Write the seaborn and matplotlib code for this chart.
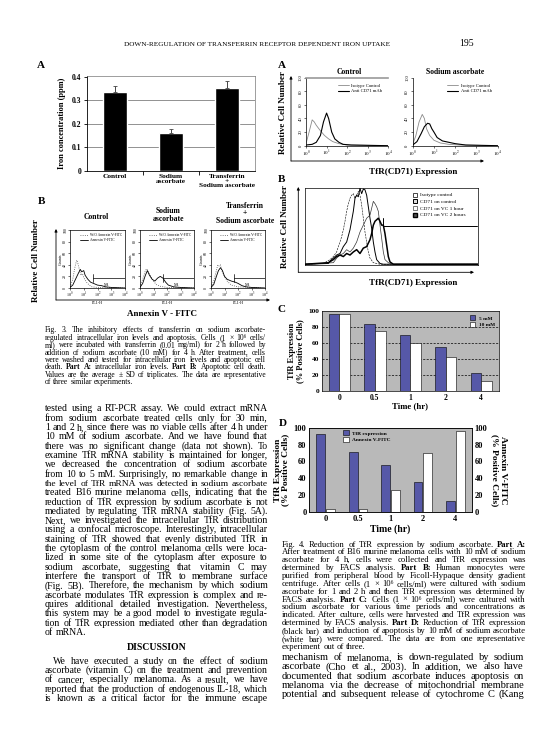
import numpy as np
import pandas as pd
import seaborn as sns
import matplotlib
matplotlib.use('Agg')
import matplotlib.pyplot as plt
from matplotlib.patches import FancyArrowPatch, Patch
from matplotlib.lines import Line2D
from matplotlib.font_manager import FontProperties

# ---------------- data ----------------
iron_groups = ['Control', 'Sodium\nascorbate', 'Transferrin\n+\nSodium ascorbate']
iron_mean = [0.335, 0.163, 0.352]
iron_sd = [0.028, 0.015, 0.030]

annex_titles = ['Control', 'Sodium\nascorbate', 'Transferrin\n+\nSodium ascorbate']
# log10(FL1-H) positions and counts
p1_wo_x = [0, 0.2, 0.35, 0.45, 0.5, 0.6, 0.7, 0.8, 0.9, 1.0, 1.2, 1.4, 1.6, 2.0, 4.0]
p1_wo_y = [2, 15, 35, 45, 48, 40, 30, 22, 25, 18, 10, 5, 2, 1, 0]
p1_an_x = [0, 0.2, 0.4, 0.6, 0.75, 0.85, 1.0, 1.1, 1.3, 1.5, 1.8, 2.0, 2.3, 2.6, 3.0, 4.0]
p1_an_y = [1, 5, 15, 25, 32, 28, 30, 22, 15, 10, 7, 5, 4, 2, 1, 0]
p2_wo_x = [0, 0.2, 0.4, 0.5, 0.6, 0.8, 1.0, 1.2, 1.5, 2.0, 4.0]
p2_wo_y = [2, 15, 30, 33, 28, 20, 12, 6, 3, 1, 0]
p2_an_x = [0, 0.2, 0.4, 0.55, 0.7, 0.9, 1.1, 1.3, 1.5, 1.7, 1.9, 2.1, 2.5, 3.0, 4.0]
p2_an_y = [1, 8, 22, 30, 22, 15, 12, 17, 20, 17, 10, 5, 2, 1, 0]
p3_wo_x = [0, 0.2, 0.4, 0.5, 0.6, 0.7, 0.8, 1.0, 1.2, 1.5, 2.0, 4.0]
p3_wo_y = [2, 12, 30, 40, 38, 40, 30, 20, 12, 5, 2, 0]
p3_an_x = [0, 0.2, 0.4, 0.55, 0.7, 0.85, 1.0, 1.2, 1.5, 1.8, 2.0, 2.3, 2.6, 3.0, 4.0]
p3_an_y = [1, 6, 20, 30, 35, 30, 20, 15, 12, 10, 8, 4, 2, 1, 0]

# Fig 4A histograms (log10 TfR fluorescence, counts)
ctl_iso_x = [0, 0.15, 0.3, 0.4, 0.5, 0.7, 0.9, 1.1, 1.3, 1.6, 2.0, 4.0]
ctl_iso_y = [3, 20, 38, 35, 30, 22, 15, 10, 6, 3, 1, 0]
ctl_cd_x = [0, 0.3, 0.5, 0.7, 0.85, 1.0, 1.1, 1.25, 1.4, 1.6, 1.8, 2.2, 4.0]
ctl_cd_y = [1, 2, 5, 15, 35, 48, 40, 20, 10, 5, 2, 1, 0]
sa_iso_x = [0, 0.15, 0.3, 0.45, 0.55, 0.65, 0.8, 1.0, 1.3, 1.7, 2.2, 4.0]
sa_iso_y = [2, 15, 35, 46, 40, 25, 15, 8, 4, 2, 1, 0]
sa_cd_x = [0, 0.2, 0.4, 0.55, 0.7, 0.8, 0.9, 1.0, 1.15, 1.4, 1.7, 2.0, 2.5, 4.0]
sa_cd_y = [1, 6, 18, 28, 33, 32, 25, 20, 12, 7, 5, 3, 1, 0]

# Fig 4B overlay histograms (channel, relative cell number)
b_iso_x = [0, 55, 75, 85, 95, 100, 105, 110, 115, 120, 125, 130, 135, 140, 145, 150, 155, 160, 165, 170, 175, 180, 185, 190, 195, 205, 215, 225, 520]
b_iso_y = [1, 2, 7, 11, 17, 24, 30, 37, 46, 57, 70, 80, 87, 91, 93, 87, 91, 96, 91, 78, 61, 43, 30, 17, 9, 3, 2, 1, 1]
b_ctl_x = [0, 70, 75, 85, 95, 105, 115, 125, 135, 145, 150, 155, 160, 165, 170, 175, 180, 185, 190, 195, 200, 205, 210, 215, 225, 235, 520]
b_ctl_y = [1, 2, 5, 9, 13, 15, 24, 30, 46, 70, 87, 91, 89, 100, 93, 99, 98, 91, 76, 61, 48, 30, 17, 7, 2, 1, 1]
b_vc1_x = [0, 85, 95, 105, 115, 125, 135, 145, 155, 165, 175, 185, 195, 200, 205, 210, 215, 220, 225, 230, 235, 240, 250, 260, 520]
b_vc1_y = [1, 3, 9, 13, 15, 20, 17, 22, 30, 43, 52, 61, 65, 74, 83, 80, 76, 70, 52, 35, 17, 7, 3, 1, 1]
b_vc2_x = [0, 70, 85, 95, 105, 115, 125, 135, 145, 155, 165, 175, 185, 195, 200, 205, 210, 215, 220, 225, 230, 235, 240, 245, 250, 255, 265, 520]
b_vc2_y = [1, 3, 7, 11, 13, 11, 15, 13, 17, 20, 15, 22, 24, 33, 41, 52, 57, 59, 61, 57, 52, 52, 41, 26, 11, 4, 1, 1]
b_labels = ['Isotype control', 'CD71 on control', 'CD71 on VC 1 hour', 'CD71 on VC 2 hours']

# Fig 4C
times = ['0', '0.5', '1', '2', '4']
c_5mm = [96, 84, 70, 55, 23]
c_10mm = [96, 75, 60, 42, 13]
# Fig 4D
d_tfr = [92, 71, 56, 36, 13]
d_annexin = [4, 4, 26, 70, 96]

# ---------------- text ----------------
header = 'DOWN-REGULATION OF TRANSFERRIN RECEPTOR DEPENDENT IRON UPTAKE'
page_no = '195'
cap3 = [
    'Fig. 3.  The inhibitory effects of transferrin on sodium ascorbate-',
    'regulated intracellular iron levels and apoptosis. Cells (1 × 10⁶ cells/',
    'ml) were incubated with transferrin (0.01 mg/ml) for 2 h followed by',
    'addition of sodium ascorbate (10 mM) for 4 h. After treatment, cells',
    'were washed and tested for intracellular iron levels and apoptotic cell',
    'death. §Part §A: intracellular iron levels. §Part §B: Apoptotic cell death.',
    'Values are the average ± SD of triplicates. The data are representative',
    'of three similar experiments.',
]
body_left = [
    'tested using a RT-PCR assay. We could extract mRNA',
    'from sodium ascorbate treated cells only for 30 min,',
    '1 and 2 h, since there was no viable cells after 4 h under',
    '10 mM of sodium ascorbate. And we have found that',
    'there was no significant change (data not shown). To',
    'examine TfR mRNA stability is maintained for longer,',
    'we decreased the concentration of sodium ascorbate',
    'from 10 to 5 mM. Surprisingly, no remarkable change in',
    'the level of TfR mRNA was detected in sodium ascorbate',
    'treated B16 murine melanoma cells, indicating that the',
    'reduction of TfR expression by sodium ascorbate is not',
    'mediated by regulating TfR mRNA stability (Fig. 5A).',
    'Next, we investigated the intracellular TfR distribution',
    'using a confocal microscope. Interestingly, intracellular',
    'staining of TfR showed that evenly distributed TfR in',
    'the cytoplasm of the control melanoma cells were loca-',
    'lized in some site of the cytoplasm after exposure to',
    'sodium ascorbate, suggesting that vitamin C may',
    'interfere the transport of TfR to membrane surface',
    '(Fig. 5B). Therefore, the mechanism by which sodium',
    'ascorbate modulates TfR expression is complex and re-',
    'quires additional detailed investigation. Nevertheless,',
    'this system may be a good model to investigate regula-',
    'tion of TfR expression mediated other than degradation',
    'of mRNA.',
]
disc_title = 'DISCUSSION'
disc = [
    'We have executed a study on the effect of sodium',
    'ascorbate (vitamin C) on the treatment and prevention',
    'of cancer, especially melanoma. As a result, we have',
    'reported that the production of endogenous IL-18, which',
    'is known as a critical factor for the immune escape',
]
cap4 = [
    'Fig. 4.  Reduction of TfR expression by sodium ascorbate. §Part §A:',
    'After treatment of B16 murine melanoma cells with 10 mM of sodium',
    'ascorbate for 4 h, cells were collected and TfR expression was',
    'determined by FACS analysis. §Part §B: Human monocytes were',
    'purified from peripheral blood by Ficoll-Hypaque density gradient',
    'centrifuge. After cells (1 × 10⁶ cells/ml) were cultured with sodium',
    'ascorbate for 1 and 2 h and then TfR expression was determined by',
    'FACS analysis. §Part §C: Cells (1 × 10⁶ cells/ml) were cultured with',
    'sodium ascorbate for various time periods and concentrations as',
    'indicated. After culture, cells were harvested and TfR expression was',
    'determined by FACS analysis. §Part §D: Reduction of TfR expression',
    '(black bar) and induction of apoptosis by 10 mM of sodium ascorbate',
    '(white bar) were compared. The data are from one representative',
    'experiment out of three.',
]
body_right = [
    'mechanism of melanoma, is down-regulated by sodium',
    'ascorbate (Cho et al., 2003). In addition, we also have',
    'documented that sodium ascorbate induces apoptosis on',
    'melanoma via the decrease of mitochondrial membrane',
    'potential and subsequent release of cytochrome C (Kang',
]

# ---------------- setup ----------------
W, H = 553, 737
sns.set_theme(style='white', rc={
    'axes.edgecolor': 'black', 'axes.linewidth': 0.6,
    'xtick.color': 'black', 'ytick.color': 'black',
    'axes.labelcolor': 'black', 'text.color': 'black',
})
CHART_FONT = ['Liberation Serif', 'DejaVu Serif']
BODY_FONT = ['Liberation Serif', 'DejaVu Serif']
plt.rcParams['font.family'] = CHART_FONT
plt.rcParams['mathtext.fontset'] = 'stix'

fig = plt.figure(figsize=(W / 100, H / 100), dpi=100)
fig.patch.set_facecolor('white')
renderer = fig.canvas.get_renderer()


def ax_px(x0, y0, x1, y1):
    return fig.add_axes([x0 / W, 1 - y1 / H, (x1 - x0) / W, (y1 - y0) / H])


def t(x, y, s, size=6, weight='bold', ha='center', va='center', rot=0, family=None, **kw):
    fig.text(x / W, 1 - y / H, s, fontsize=size, fontweight=weight, ha=ha, va=va,
             rotation=rot, family=family or CHART_FONT, **kw)


def arrow(x0, y0, x1, y1, head=True, lw=0.6, color='black'):
    a = FancyArrowPatch((x0 / W, 1 - y0 / H), (x1 / W, 1 - y1 / H), transform=fig.transFigure,
                        arrowstyle='-|>' if head else '-', mutation_scale=4, lw=lw,
                        color=color, shrinkA=0, shrinkB=0)
    fig.add_artist(a)


def measure(s, size, bold):
    tx = fig.text(0, 0, s, fontsize=size, family=BODY_FONT, fontweight='bold' if bold else 'normal')
    w = tx.get_window_extent(renderer).width
    tx.remove()
    return w


def parse(line):
    return [(w.lstrip('§'), w.startswith('§')) for w in line.split()]


def natural(toks, size):
    sp = measure('n n', size, False) - measure('nn', size, False)
    return sum(measure(w, size, b) for w, b in toks) + sp * (len(toks) - 1)


def fit_size(lines, width, base=6.0, indent=0, fill=0.97):
    ratios = []
    for i, ln in enumerate(lines[:-1] if len(lines) > 2 else lines):
        avail = width - (indent if i == 0 else 0)
        ratios.append(natural(parse(ln), base) / avail)
    return base / float(np.median(ratios)) * fill


def block(lines, x0, x1, y0, dy, size, justify_last=False, indent=0):
    for i, ln in enumerate(lines):
        toks = parse(ln)
        xs = x0 + (indent if i == 0 else 0)
        avail = x1 - xs
        sz = size
        nat = natural(toks, sz)
        if nat > avail * 0.995:
            sz = sz * avail * 0.99 / nat
        widths = [measure(w, sz, b) for w, b in toks]
        sp = measure('n n', sz, False) - measure('nn', sz, False)
        last = (i == len(lines) - 1) and not justify_last
        if len(toks) > 1 and not last:
            gap = (avail - sum(widths)) / (len(toks) - 1)
        else:
            gap = sp
        y = y0 + i * dy + 0.32 * size * 100 / 72
        x = xs
        for (w, b), wd in zip(toks, widths):
            fig.text(x / W, 1 - y / H, w, fontsize=sz, family=BODY_FONT,
                     fontweight='bold' if b else 'normal', ha='left', va='baseline')
            x += wd + gap


# ---------------- header ----------------
t(257, 44, header, size=5.2, weight='normal', family=BODY_FONT)
t(467, 44, page_no, size=7, weight='normal', family=BODY_FONT)

# ---------------- Fig 3A ----------------
t(41, 65, 'A', size=8)
ax = ax_px(87, 75.7, 255, 171)
sns.barplot(x=iron_groups, y=iron_mean, color='black', width=0.42, errorbar=None,
            saturation=1, ax=ax)
ax.errorbar(range(3), iron_mean, yerr=[[0, 0, 0], iron_sd], fmt='none', ecolor='#444444',
            elinewidth=0.7, capsize=1.5, capthick=0.6, zorder=5)
for v in [0.1, 0.2, 0.3]:
    ax.axhline(v, color='black', lw=0.6, ls=(0, (1.2, 1.2)), zorder=0)
ax.set_ylim(0, 0.405)
ax.set_xlim(-0.5, 2.5)
ax.set_yticks([0, 0.1, 0.2, 0.3, 0.4])
ax.set_yticklabels(['0', '0.1', '0.2', '0.3', '0.4'], fontsize=5.5, fontweight='bold')
ax.set_xticks([0, 1, 2])
ax.set_xticklabels(iron_groups, fontsize=5.3, fontweight='bold', linespacing=0.95)
ax.set_xticks([0.5, 1.5], minor=True)
ax.tick_params(axis='x', which='major', length=0, pad=2)
ax.tick_params(axis='x', which='minor', length=3, width=0.6, direction='out', bottom=True)
ax.tick_params(axis='y', length=2, width=0.6, pad=2, left=True)
for s in ['top', 'right']:
    ax.spines[s].set_color('#777777')
    ax.spines[s].set_linewidth(0.5)
ax.set_xlabel('')
ax.set_ylabel('Iron concentration (ppm)', fontsize=6, fontweight='bold', labelpad=4)

# ---------------- Fig 3B ----------------
t(41, 202, 'B', size=8)
t(96.7, 216.7, annex_titles[0], size=5.5, linespacing=0.95)
t(168.3, 215, annex_titles[1], size=5.5, linespacing=0.95)
t(245, 213.5, annex_titles[2], size=5.5, linespacing=0.95)
panels = [
    ((70, 230, 125, 288), p1_wo_x, p1_wo_y, p1_an_x, p1_an_y),
    ((140, 230, 194, 288), p2_wo_x, p2_wo_y, p2_an_x, p2_an_y),
    ((211, 230, 265, 288), p3_wo_x, p3_wo_y, p3_an_x, p3_an_y),
]
for rect, wx, wy, axx, ayy in panels:
    ax = ax_px(*rect)
    sns.lineplot(x=10 ** np.array(wx, float), y=wy, ax=ax, color='#555555', lw=0.6,
                 linestyle=':', sort=False, estimator=None)
    sns.lineplot(x=10 ** np.array(axx, float), y=ayy, ax=ax, color='black', lw=0.6,
                 sort=False, estimator=None)
    ax.set_xscale('log')
    ax.set_xlim(1, 1e4)
    ax.set_ylim(0, 100)
    ax.plot([10 ** 1.7, 1e4], [17, 17], color='black', lw=0.5)
    ax.plot([10 ** 1.7, 10 ** 1.7], [10, 25], color='black', lw=0.5)
    ax.text(10 ** 2.7, 6, 'M1', fontsize=3, ha='center', va='center')
    ax.set_xticks([1, 10, 100, 1000, 10000])
    ax.set_xticklabels(['$10^0$', '$10^1$', '$10^2$', '$10^3$', '$10^4$'], fontsize=3)
    ax.xaxis.set_minor_locator(matplotlib.ticker.NullLocator())
    ax.set_yticks([0, 20, 40, 60, 80, 100])
    ax.set_yticklabels(['0', '20', '40', '60', '80', '100'], fontsize=2.8, rotation=90, va='center')
    ax.tick_params(length=1.2, width=0.4, pad=0.8, bottom=True, left=True)
    ax.set_xlabel('FL1-H', fontsize=3, labelpad=0.5)
    ax.set_ylabel('Counts', fontsize=3, labelpad=0.5)
    for s in ax.spines.values():
        s.set_linewidth(0.5)
    hs = [Line2D([], [], color='#555555', lw=0.6, ls=':'), Line2D([], [], color='black', lw=0.6)]
    ax.legend(hs, ['W/O Annexin V-FITC', 'Annexin V-FITC'], loc='upper right', fontsize=2.6,
              frameon=False, handlelength=2.2, borderpad=0.3, labelspacing=0.3, handletextpad=0.5)
arrow(56, 300, 56, 229)
arrow(56, 300, 270, 300)
t(36, 261, 'Relative Cell Number', size=6.5, rot=90)
t(162, 314, 'Annexin V - FITC', size=6.5)

# ---------------- Fig 3 caption + left text ----------------
s_cap3 = fit_size(cap3, 266 - 45)
block(cap3, 45, 266, 330, 7.4, s_cap3)
s_body = fit_size(body_left, 268 - 45)
block(body_left, 45, 268, 408.3, 9.31, s_body)
t(156.7, 647.3, disc_title, size=s_body * 1.0, family=BODY_FONT)
block(disc, 45, 268, 660.7, 9.3, s_body, justify_last=True, indent=8)

# ---------------- Fig 4A ----------------
t(281.7, 65, 'A', size=8)
t(349, 71.7, 'Control', size=5.5)
t(455, 71.7, 'Sodium ascorbate', size=5.5)
for rect, ix, iy, cx, cy, top in [((306, 77.7, 388.3, 145.7), ctl_iso_x, ctl_iso_y, ctl_cd_x, ctl_cd_y, True),
                                   ((412.7, 77.7, 497.7, 145.7), sa_iso_x, sa_iso_y, sa_cd_x, sa_cd_y, False)]:
    ax = ax_px(*rect)
    sns.lineplot(x=10 ** np.array(ix, float), y=iy, ax=ax, color='#8a8a8a', lw=0.6,
                 sort=False, estimator=None)
    sns.lineplot(x=10 ** np.array(cx, float), y=cy, ax=ax, color='black', lw=0.8,
                 sort=False, estimator=None)
    ax.set_xscale('log')
    ax.set_xlim(1, 1e4)
    ax.set_ylim(0, 100)
    ax.set_xticks([1, 10, 100, 1000, 10000])
    ax.set_xticklabels(['$10^0$', '$10^1$', '$10^2$', '$10^3$', '$10^4$'], fontsize=3.6)
    ax.xaxis.set_minor_locator(matplotlib.ticker.NullLocator())
    ax.set_yticks([0, 20, 40, 60, 80, 100])
    ax.set_yticklabels(['0', '20', '40', '60', '80', '100'], fontsize=3.3, rotation=90, va='center')
    ax.tick_params(length=1.5, width=0.4, pad=1, bottom=True, left=True)
    ax.set_xlabel('')
    ax.set_ylabel('')
    ax.spines['right'].set_visible(False)
    if top:
        ax.spines['top'].set_color('#999999')
        ax.spines['top'].set_linewidth(1.2)
    else:
        ax.spines['top'].set_visible(False)
    for s in ['left', 'bottom']:
        ax.spines[s].set_linewidth(0.5)
    hs = [Line2D([], [], color='#8a8a8a', lw=0.6), Line2D([], [], color='black', lw=0.8)]
    ax.legend(hs, ['Isotype Control', 'Anti CD71 mAb'], loc='upper right', fontsize=3.3,
              frameon=False, handlelength=2.5, borderpad=0.8, labelspacing=0.3, handletextpad=0.5)
arrow(291, 161, 291, 76)
arrow(291, 161, 484, 161)
t(283.3, 113, 'Relative Cell Number', size=6.5, rot=90)
t(413, 171.7, 'TfR(CD71) Expression', size=6.5)

# ---------------- Fig 4B ----------------
t(281.7, 180, 'B', size=8)
ax = ax_px(305, 188.3, 478.3, 265)
sns.lineplot(x=b_iso_x, y=b_iso_y, ax=ax, color='black', lw=0.4, linestyle='--', sort=False, estimator=None)
sns.lineplot(x=b_ctl_x, y=b_ctl_y, ax=ax, color='black', lw=0.7, sort=False, estimator=None)
sns.lineplot(x=b_vc1_x, y=b_vc1_y, ax=ax, color='#333333', lw=0.5, sort=False, estimator=None)
sns.lineplot(x=b_vc2_x, y=b_vc2_y, ax=ax, color='black', lw=1.1, sort=False, estimator=None)
ax.plot([235, 515], [51, 51], color='black', lw=0.7)
ax.plot([235, 235], [51, 61], color='black', lw=0.7)
ax.set_xlim(0, 520)
ax.set_ylim(0, 100)
ax.set_xticks([])
ax.set_yticks([])
ax.set_xlabel('')
ax.set_ylabel('')
for s in ax.spines.values():
    s.set_linewidth(0.5)
hs = [Line2D([], [], marker='s', ls='none', mfc='white', mec='black', mew=0.5, ms=3),
      Line2D([], [], marker='s', ls='none', mfc='#dddddd', mec='black', mew=0.7, ms=3),
      Line2D([], [], marker='s', ls='none', mfc='white', mec='#444444', mew=0.5, ms=3),
      Line2D([], [], marker='s', ls='none', mfc='#555555', mec='black', mew=1.0, ms=3)]
ax.legend(hs, b_labels, loc='upper left', bbox_to_anchor=(0.6, 1.0), fontsize=3.9, frameon=False,
          handlelength=0.8, borderpad=0.3, labelspacing=0.35, handletextpad=0.4)
arrow(298.3, 272.3, 298.3, 187)
arrow(298.3, 272.3, 474, 272.3)
t(285, 226.7, 'Relative Cell Number', size=6.5, rot=90)
t(413.3, 283.3, 'TfR(CD71) Expression', size=6.5)

# ---------------- Fig 4C ----------------
BLUE = '#5658a8'
GRAYBG = '#b9b9b9'
t(281.7, 310, 'C', size=8)
ax = ax_px(321.7, 311, 499, 391)
df_c = pd.DataFrame({'time': times * 2, 'value': c_5mm + c_10mm,
                     'conc': ['5 mM'] * 5 + ['10 mM'] * 5})
sns.barplot(data=df_c, x='time', y='value', hue='conc', order=times, hue_order=['5 mM', '10 mM'],
            palette={'5 mM': BLUE, '10 mM': 'white'}, saturation=1, width=0.6, gap=0,
            edgecolor='black', linewidth=0.4, errorbar=None, ax=ax)
ax.set_facecolor(GRAYBG)
ax.set_axisbelow(True)
for v in [20, 40, 60, 80]:
    ax.axhline(v, color='black', lw=0.5, ls=(0, (3, 2)), zorder=0)
ax.set_ylim(0, 100)
ax.set_yticks([0, 20, 40, 60, 80, 100])
ax.set_yticklabels(['0', '20', '40', '60', '80', '100'], fontsize=5.3, fontweight='bold')
ax.set_xticklabels(times, fontsize=5.5, fontweight='bold')
ax.tick_params(length=0, pad=2)
ax.set_xlabel('Time (hr)', fontsize=6.3, fontweight='bold', labelpad=0.5)
ax.set_ylabel('TfR Expression\n(% Positive Cells)', fontsize=6, fontweight='bold', labelpad=3,
              linespacing=0.95)
for s in ax.spines.values():
    s.set_linewidth(0.5)
hs = [Patch(facecolor=BLUE, edgecolor='black', lw=0.4), Patch(facecolor='white', edgecolor='black', lw=0.4)]
ax.legend(hs, ['5 mM', '10 mM'], loc='upper right', frameon=False, handlelength=1.1,
          handleheight=1.1, borderpad=0.3, labelspacing=0.25, handletextpad=0.6,
          prop={'family': CHART_FONT, 'weight': 'bold', 'size': 3.8})

# ---------------- Fig 4D ----------------
t(283, 423.3, 'D', size=8)
ax = ax_px(309.3, 427.7, 471.7, 512)
df_d = pd.DataFrame({'time': times * 2, 'value': d_tfr + d_annexin,
                     'kind': ['TfR expression'] * 5 + ['Annexin V-FITC'] * 5})
sns.barplot(data=df_d, x='time', y='value', hue='kind', order=times,
            hue_order=['TfR expression', 'Annexin V-FITC'],
            palette={'TfR expression': BLUE, 'Annexin V-FITC': 'white'}, saturation=1, width=0.6,
            gap=0.1, edgecolor='black', linewidth=0.4, errorbar=None, ax=ax)
ax.set_facecolor(GRAYBG)
ax.set_axisbelow(True)
ax.set_ylim(0, 100)
ax.set_yticks([0, 20, 40, 60, 80, 100])
ax.set_yticklabels(['0', '20', '40', '60', '80', '100'], fontsize=6, fontweight='bold')
ax.set_xticklabels(times, fontsize=6, fontweight='bold')
ax.tick_params(length=0, pad=2)
ax.set_xlabel('Time (hr)', fontsize=7, fontweight='bold', labelpad=1)
ax.set_ylabel('TfR Expression\n(% Positive Cells)', fontsize=6.8, fontweight='bold', labelpad=3,
              linespacing=0.95)
for s in ax.spines.values():
    s.set_linewidth(0.5)
hs = [Patch(facecolor=BLUE, edgecolor='black', lw=0.4), Patch(facecolor='white', edgecolor='black', lw=0.4)]
ax.legend(hs, ['TfR expression', 'Annexin V-FITC'], loc='upper left', bbox_to_anchor=(0.18, 1.02),
          frameon=False, handlelength=1.1, handleheight=1.0, borderpad=0.3, labelspacing=0.25,
          handletextpad=0.6, prop={'family': CHART_FONT, 'weight': 'bold', 'size': 3.9})
ax2 = ax.twinx()
ax2.set_ylim(0, 100)
ax2.set_yticks([0, 20, 40, 60, 80, 100])
ax2.set_yticklabels(['0', '20', '40', '60', '80', '100'], fontsize=6, fontweight='bold')
ax2.tick_params(length=0, pad=2)
ax2.set_ylabel('Annexin V-FITC\n(% Positive Cells)', fontsize=6.8, fontweight='bold', rotation=270,
               labelpad=14, linespacing=0.95)
for s in ax2.spines.values():
    s.set_linewidth(0.5)

# ---------------- Fig 4 caption + right text ----------------
s_cap4 = fit_size(cap4, 526 - 282)
block(cap4, 282, 526, 543.8, 7.85, s_cap4)
s_body_r = fit_size(body_right, 524 - 282)
block(body_right, 282, 524, 656.7, 9.3, s_body_r, justify_last=True)

fig.savefig('out.png', dpi=100, facecolor='white')
